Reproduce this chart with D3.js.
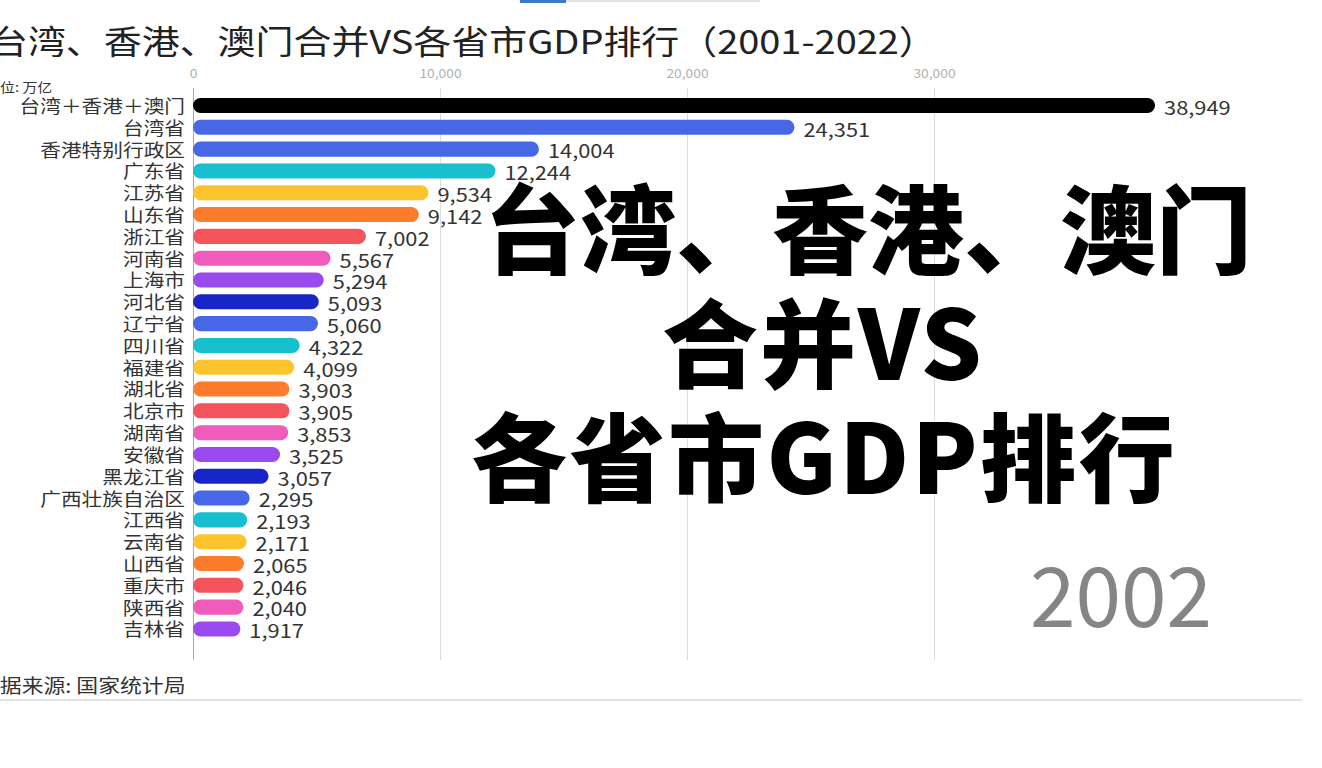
<!DOCTYPE html>
<html>
<head>
<meta charset="utf-8">
<script src="https://cdn.jsdelivr.net/npm/d3@7"></script>
<style>
  html, body { margin: 0; padding: 0; background: #fff; overflow: hidden; }
  svg { display: block; }
  text { font-family: "Noto Sans CJK SC", "Noto Sans", sans-serif; }
</style>
</head>
<body>
<svg id="chart" width="1322" height="768"></svg>
<script>
// ---- data ----
const categories = ["台湾＋香港＋澳门","台湾省","香港特别行政区","广东省","江苏省","山东省","浙江省","河南省","上海市","河北省","辽宁省","四川省","福建省","湖北省","北京市","湖南省","安徽省","黑龙江省","广西壮族自治区","江西省","云南省","山西省","重庆市","陕西省","吉林省"];
const values = [38949,24351,14004,12244,9534,9142,7002,5567,5294,5093,5060,4322,4099,3903,3905,3853,3525,3057,2295,2193,2171,2065,2046,2040,1917];
const tickValues = [0,10000,20000,30000];
const yearLabel = "2002";
const titleText = "台湾、香港、澳门合并VS各省市GDP排行（2001-2022）";
const unitText = "单位: 万亿";
const sourceText = "数据来源: 国家统计局";
const overlayLines = ["台湾、香港、澳门","合并VS","各省市GDP排行"];

// ---- styles ----
const cycle = ["#4767e6","#17bfcf","#fcc52e","#fb7d2b","#f4545b","#f05cbc","#9a4bf0","#1826c8"];
const colorOf = i => i === 0 ? "#000000" : (i === 1 ? cycle[0] : cycle[(i - 2) % cycle.length]);
const SX = 1.15; // horizontal stretch of chart text

const svg = d3.select("#chart");
const data = categories.map((c, i) => ({ name: c, value: values[i], i }));

const x = d3.scaleLinear().domain([0, 40000]).range([193, 1181]);
const y = d3.scaleBand().domain(categories).range([94.6, 94.6 + 21.81 * categories.length])
  .paddingInner(0.31).paddingOuter(0.155);

// top progress bar
svg.append("rect").attr("x", 565).attr("y", 0).attr("width", 195).attr("height", 2).attr("fill", "#e2e2e2");
svg.append("rect").attr("x", 520).attr("y", 0).attr("width", 46).attr("height", 3).attr("fill", "#3a78c8");

// title
svg.append("text").attr("transform", `translate(-10,54) scale(${SX},1)`)
  .attr("font-size", 33).attr("fill", "#222").text(titleText);

// axis + gridlines
const gridBottom = 660, axisY = 88;
const axis = svg.append("g").attr("transform", `translate(0,${axisY})`)
  .call(d3.axisTop(x).tickValues(tickValues).tickSize(-(gridBottom - axisY)).tickPadding(10).tickFormat(d3.format(",")));
axis.select(".domain").remove();
axis.selectAll(".tick line").attr("stroke", (d, i) => i === 0 ? "#a8a8a8" : "#dcdcdc").attr("stroke-width", 1);
axis.selectAll(".tick text").attr("fill", "#b0b0b0").attr("font-size", 12)
  .attr("font-family", "'Noto Sans CJK SC', sans-serif")
  .attr("transform", `scale(${SX},1)`);

// unit label
svg.append("text").attr("transform", `translate(-15,92) scale(${SX},1)`)
  .attr("font-size", 13).attr("fill", "#333").text(unitText);

// bars
svg.append("g").selectAll("rect").data(data).join("rect")
  .attr("x", x(0))
  .attr("y", d => y(d.name))
  .attr("width", d => x(d.value) - x(0))
  .attr("height", y.bandwidth())
  .attr("rx", y.bandwidth() / 2)
  .attr("fill", d => colorOf(d.i));

// category labels
svg.append("g").selectAll("text").data(data).join("text")
  .attr("transform", d => `translate(185,${y(d.name) + y.bandwidth() / 2}) scale(${SX},1)`)
  .attr("text-anchor", "end").attr("dominant-baseline", "central")
  .attr("font-size", 18).attr("fill", "#333").text(d => d.name);

// value labels
const fmt = d3.format(",");
svg.append("g").selectAll("text").data(data).join("text")
  .attr("transform", d => `translate(${x(d.value) + 9},${y(d.name) + y.bandwidth() / 2 + 1}) scale(${SX},1)`)
  .attr("dominant-baseline", "central")
  .attr("font-size", 19).attr("fill", "#333").text(d => fmt(d.value));

// year
svg.append("text").attr("x", 1212).attr("y", 627).attr("text-anchor", "end")
  .attr("font-family", "'Noto Sans', sans-serif")
  .attr("font-size", 82).attr("fill", "#858585").text(yearLabel);

// source
svg.append("text").attr("transform", `translate(-22,693) scale(${SX},1)`)
  .attr("font-size", 19).attr("fill", "#333").text(sourceText);

// bottom separator
svg.append("rect").attr("x", 0).attr("y", 699).attr("width", 1302).attr("height", 2).attr("fill", "#e3e3e3");

// big overlay text
const ov = [{x: 484, y: 266, ls: 0}, {x: 662, y: 380, ls: 2}, {x: 471, y: 494, ls: 2.5}];
svg.append("g").selectAll("text").data(overlayLines).join("text")
  .attr("x", (d, i) => ov[i].x).attr("y", (d, i) => ov[i].y)
  .attr("letter-spacing", (d, i) => ov[i].ls)
  .attr("font-size", 96).attr("font-weight", 900).attr("fill", "#000").text(d => d);
</script>
</body>
</html>
